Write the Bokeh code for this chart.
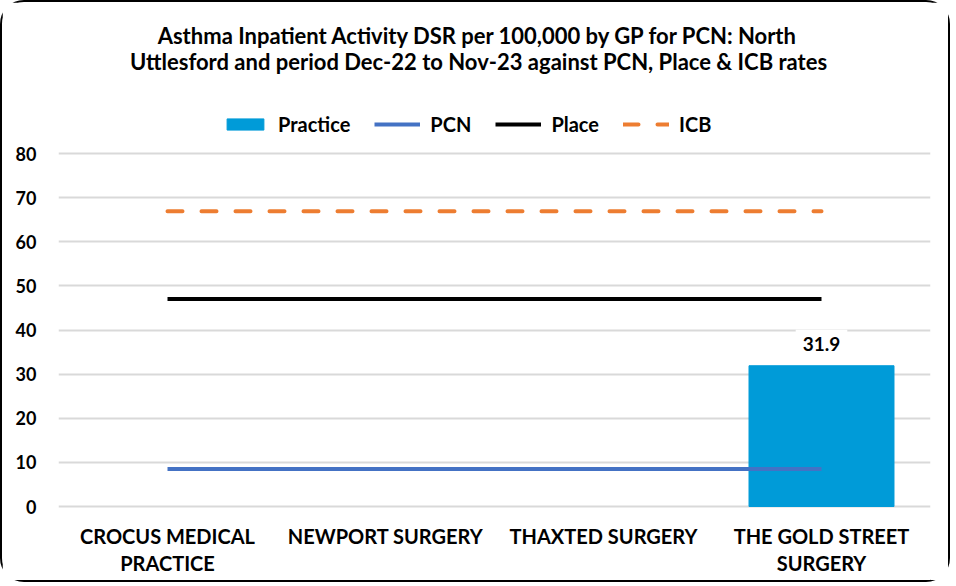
from bokeh.plotting import figure
from bokeh.models import (ColumnDataSource, Legend, LegendItem, Label,
                          FixedTicker, Range1d)
from bokeh.embed import file_html
from bokeh.resources import INLINE

# ---- data ----
practices = ["CROCUS MEDICAL PRACTICE", "NEWPORT SURGERY", "THAXTED SURGERY",
             "THE GOLD STREET SURGERY"]
label_line1 = ["CROCUS MEDICAL", "NEWPORT SURGERY", "THAXTED SURGERY", "THE GOLD STREET"]
label_line2 = ["PRACTICE", "", "", "SURGERY"]
practice_rate = [float("nan"), float("nan"), float("nan"), 31.9]
pcn_rate = [8.5, 8.5, 8.5, 8.5]
place_rate = [47.0, 47.0, 47.0, 47.0]
icb_rate = [66.9, 66.9, 66.9, 66.9]
y_ticks = [0, 10, 20, 30, 40, 50, 60, 70, 80]
title_lines = ["Asthma Inpatient Activity DSR per 100,000 by GP for PCN: North",
               "Uttlesford and period Dec-22 to Nov-23 against PCN, Place & ICB rates"]

FONT = "Lato"

src = ColumnDataSource(dict(x=practices, practice=practice_rate, pcn=pcn_rate,
                            place=place_rate, icb=icb_rate))

# the frame spans title to category labels; gridlines/ticks only cover 0-80
p = figure(x_range=practices, y_range=Range1d(-16.77, 112.41), width=950, height=582,
           output_backend="svg", toolbar_location=None, title_location=None,
           min_border_left=56, min_border_right=22, min_border_bottom=4,
           min_border_top=8)
p.styles = {"border": "2px solid #000", "border-radius": "24px"}
p.outline_line_color = None
p.background_fill_color = "white"
p.border_fill_color = "white"

bars = p.vbar(x="x", top="practice", width=0.665, source=src, color="#009BD8")
pcn = p.line(x="x", y="pcn", source=src, line_color="#4472C4", line_width=4)
place = p.line(x="x", y="place", source=src, line_color="#000000", line_width=4)
icb = p.line(x="x", y="icb", source=src, line_color="#ED7D31", line_width=4,
             line_dash="15 19", line_cap="round")

# data labels (categorical factor i sits at synthetic coordinate i + 0.5)
for i, v in enumerate(practice_rate):
    if v == v:
        p.add_layout(Label(x=i + 0.5, y=v, text=f"{v:.1f}", y_offset=8,
                           text_align="center", text_baseline="bottom",
                           text_font=FONT, text_font_size="19px",
                           text_font_style="bold", text_color="#000000",
                           background_fill_color="white", background_fill_alpha=1.0,
                           border_line_color=None, padding=7))

# category labels (two lines)
for i, (l1, l2) in enumerate(zip(label_line1, label_line2)):
    for yy, t in ((45, l1), (18, l2)):
        if t:
            p.add_layout(Label(x=i + 0.5, y=yy, y_units="screen", text=t,
                               text_align="center", text_baseline="middle",
                               text_font=FONT, text_font_size="20px",
                               text_font_style="bold", text_color="#000000"))

# title (two centred lines)
for i, t in enumerate(title_lines):
    p.add_layout(Label(x=420, y=545 - 26 * i, x_units="screen", y_units="screen",
                       text=t, text_align="center", text_baseline="middle",
                       text_font=FONT, text_font_size="22px", text_font_style="bold",
                       text_color="#000000"))

legend = Legend(items=[LegendItem(label="Practice", renderers=[bars]),
                       LegendItem(label="PCN", renderers=[pcn]),
                       LegendItem(label="Place", renderers=[place]),
                       LegendItem(label="ICB", renderers=[icb])],
                orientation="horizontal", location=(164, 444),
                label_text_font=FONT, label_text_font_size="20px",
                label_text_font_style="bold", label_text_color="#000000",
                glyph_width=46, glyph_height=14,
                spacing=24, label_standoff=10, border_line_color=None,
                background_fill_alpha=0, margin=0, padding=4)
p.add_layout(legend, "center")

p.yaxis.ticker = FixedTicker(ticks=y_ticks)
p.yaxis.axis_line_color = None
p.yaxis.major_tick_line_color = None
p.yaxis.minor_tick_line_color = None
p.yaxis.major_label_text_font = FONT
p.yaxis.major_label_text_font_size = "18px"
p.yaxis.major_label_text_font_style = "bold"
p.yaxis.major_label_text_color = "#000000"
p.yaxis.major_label_standoff = 16

p.xaxis.visible = False
p.xgrid.grid_line_color = None
p.ygrid.ticker = FixedTicker(ticks=y_ticks)
p.ygrid.grid_line_color = "#D9D9D9"
p.ygrid.grid_line_width = 2
p.x_range.range_padding = 0

open("out.html", "w").write(file_html(p, INLINE))
